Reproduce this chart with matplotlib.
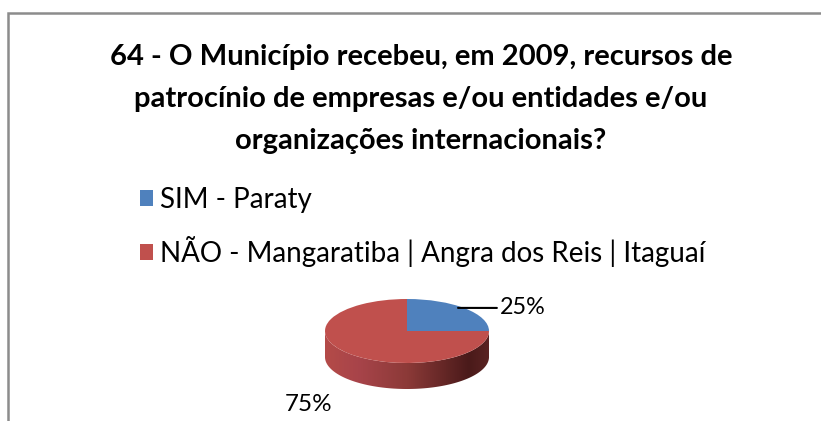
import numpy as np
import matplotlib
matplotlib.use("Agg")
import matplotlib.pyplot as plt
from matplotlib.colors import LinearSegmentedColormap
from matplotlib.patches import Polygon, Rectangle

# data
labels = ["SIM - Paraty", "NÃO - Mangaratiba | Angra dos Reis | Itaguaí"]
values = [25, 75]
pct_labels = ["25%", "75%"]
colors = ["#4f81bd", "#c0504d"]
title = ("64 - O Município recebeu, em 2009, recursos de\n"
         "patrocínio de empresas e/ou entidades e/ou\n"
         "organizações internacionais?")

W, H = 821, 421
fig = plt.figure(figsize=(W / 100, H / 100), dpi=100)
fig.patch.set_facecolor("white")

# chart border (only top and left visible)
fig.add_artist(Rectangle((8 / W, -0.1), 1.2, (H - 13) / H + 0.1, transform=fig.transFigure,
                         fill=False, edgecolor="#8c8c8c", linewidth=1.8))

fig.text(421 / W, (H - 99) / H, title, ha="center", va="center", fontsize=21,
         fontfamily="Lato", fontweight="bold", linespacing=1.78, color="black")

# pie geometry in pixels
cx, cy, rx, ry, depth_px = 407, 331, 82, 32, 26
depth = depth_px / ry
ax = fig.add_axes([(cx - rx) / W, (H - cy - ry - depth_px) / H, 2 * rx / W, (2 * ry + depth_px) / H])
wedges, _ = ax.pie(values, colors=colors, startangle=90, counterclock=False,
                   wedgeprops=dict(linewidth=0), frame=False)
ax.set_aspect("auto")
ax.set_xlim(-1, 1)
ax.set_ylim(-1 - depth, 1)
ax.axis("off")

# side of the 3d pie
t = np.linspace(np.pi, 2 * np.pi, 200)
top_edge = np.column_stack([np.cos(t), np.sin(t)])
bottom_edge = np.column_stack([np.cos(t[::-1]), np.sin(t[::-1]) - depth])
side = Polygon(np.vstack([top_edge, bottom_edge]), closed=True, facecolor="none", edgecolor="none")
ax.add_patch(side)
side_cmap = LinearSegmentedColormap.from_list(
    "side", [(0, "#b44b48"), (0.2, "#a8444a"), (0.5, "#8c3a38"), (0.88, "#4a1a1a"), (1, "#5a2322")])
grad = np.linspace(0, 1, 256).reshape(1, -1)
im = ax.imshow(grad, extent=[-1, 1, -1 - depth, 0], aspect="auto", cmap=side_cmap, zorder=0.5)
im.set_clip_path(side)

# percentage labels
mid0 = np.deg2rad(90 - values[0] / sum(values) * 360 / 2)
ax.annotate(pct_labels[0], xy=(0.88 * np.cos(mid0), 0.95 * np.sin(mid0) + 0.05),
            xytext=(1.13, 0.72), textcoords="data", ha="left", va="center",
            fontsize=16.8, fontfamily="Lato", annotation_clip=False,
            arrowprops=dict(arrowstyle="-", color="black", lw=1.5, shrinkA=0, shrinkB=0))
ax.text(-1.2, -2.3, pct_labels[1], ha="center", va="center", fontsize=17.5,
        fontfamily="Lato", clip_on=False)

leg = fig.legend(wedges, labels, loc="upper left", bbox_to_anchor=(140 / W, (H - 187) / H),
                 frameon=False, prop=dict(family="Lato", size=20), handlelength=0.47,
                 handleheight=0.47, handletextpad=0.25, labelspacing=0.82,
                 borderpad=0, borderaxespad=0)

fig.savefig("out.png", dpi=100)
